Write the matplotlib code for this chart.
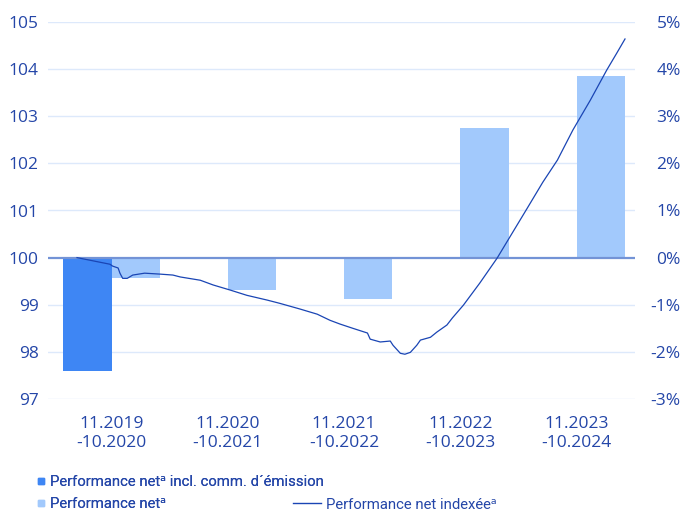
import matplotlib.pyplot as plt
from matplotlib.lines import Line2D

plt.rcParams['font.family'] = ['Open Sans', 'DejaVu Sans']

# performance per period, in %
periods = ["11.2019\n-10.2020", "11.2020\n-10.2021", "11.2021\n-10.2022",
           "11.2022\n-10.2023", "11.2023\n-10.2024"]
perf_incl_fee = [-2.41]                       # only first period
perf_net = [-0.44, -0.68, -0.88, 2.75, 3.85]

# indexed net performance (start = 100), month since 11.2019
line_month = [0.0, 3.6, 3.9, 4.5, 4.7, 5.0, 5.5, 6.1, 7.4, 9.1, 10.5, 11.3,
              13.5, 14.9, 16.8, 18.6, 20.8, 22.2, 24.4, 26.3, 27.7, 28.8,
              30.2, 31.8, 32.1, 33.2, 34.3, 34.6, 35.4, 35.9, 36.5, 37.2,
              37.6, 38.7, 39.4, 40.5, 41.1, 42.3, 44.1, 46.0, 47.4, 49.3,
              51.0, 52.6, 54.3, 56.2, 58.0, 59.1, 60.0]
line_value = [100.00, 99.86, 99.82, 99.78, 99.67, 99.56, 99.56, 99.63, 99.67,
              99.65, 99.63, 99.59, 99.52, 99.42, 99.31, 99.20, 99.10, 99.03,
              98.91, 98.80, 98.67, 98.59, 98.50, 98.40, 98.27, 98.21, 98.23,
              98.14, 97.97, 97.95, 97.99, 98.14, 98.25, 98.31, 98.42, 98.57,
              98.72, 98.99, 99.46, 99.99, 100.44, 101.05, 101.60, 102.07,
              102.71, 103.34, 103.98, 104.34, 104.64]

left_ticks = [97, 98, 99, 100, 101, 102, 103, 104, 105]
right_ticks = [-3, -2, -1, 0, 1, 2, 3, 4, 5]

text_col = '#2446a8'
dark_col = '#3e86f4'
light_col = '#a2c9fc'
line_col = '#1a45b4'
grid_col = '#dde9fb'
zero_col = '#7393d6'
legend_font = {'family': ['Roboto', 'DejaVu Sans'], 'size': 10.7}

fig = plt.figure(figsize=(6.84, 5.11), dpi=100)
ax = fig.add_axes([48.3 / 684, 1 - 399 / 511, (635 - 48.3) / 684, (399 - 22) / 511])
ax2 = ax.twinx()
ax2.set_zorder(ax.get_zorder() - 1)
ax.patch.set_visible(False)

w = 0.415
x = list(range(len(periods)))
ax2.bar([x[0] - w / 2], perf_incl_fee, width=w, color=dark_col, zorder=2)
ax2.bar([i + w / 2 for i in x], perf_net, width=w, color=light_col, zorder=2)
ax2.axhline(0, color=zero_col, lw=1.6, zorder=3)
for t in right_ticks:
    if t != 0:
        ax2.axhline(t, color=grid_col, lw=1.0, zorder=1)

# map months onto the category axis
x0, x1 = -0.297, 4.417
line_x = [x0 + m / 60 * (x1 - x0) for m in line_month]
ax.plot(line_x, line_value, color=line_col, lw=0.9)

ax.set_xlim(-0.544, 4.503)
ax.set_ylim(97, 105)
ax2.set_ylim(-3, 5)
ax.set_yticks(left_ticks)
ax.set_yticklabels([str(t) for t in left_ticks])
ax2.set_yticks(right_ticks)
ax2.set_yticklabels([f"{t}%" for t in right_ticks])
ax.set_xticks(x)
ax.set_xticklabels(periods, linespacing=1.25)

ax.tick_params(axis='y', length=0, pad=7, labelsize=12.5, labelcolor=text_col)
ax.tick_params(axis='x', length=0, pad=12, labelsize=12.5, labelcolor=text_col)
ax2.tick_params(axis='y', length=0, pad=33, labelsize=12.5, labelcolor=text_col)
for lab in ax2.get_yticklabels():
    lab.set_horizontalalignment('right')

for a in (ax, ax2):
    for s in a.spines.values():
        s.set_visible(False)

h1 = Line2D([], [], marker='s', ls='none', color=dark_col, markersize=4)
h2 = Line2D([], [], marker='s', ls='none', color=light_col, markersize=4)
h3 = Line2D([], [], color=line_col, lw=1.0)
leg1 = fig.legend([h1, h2], ["Performance net\u1d43 incl. comm. d\u00b4\u00e9mission",
                             "Performance net\u1d43"],
                  loc='upper left', bbox_to_anchor=(37.5 / 684, 1 - 475 / 511),
                  frameon=False, prop=legend_font, borderaxespad=0,
                  handlelength=0.5, handletextpad=0.31,
                  labelspacing=0.55, borderpad=0, labelcolor=text_col)
leg2 = fig.legend([h3], ["Performance net index\u00e9e\u1d43"],
                  loc='upper left', bbox_to_anchor=(293 / 684, 1 - 497.5 / 511),
                  frameon=False, prop=legend_font, borderaxespad=0,
                  handlelength=1.88, handletextpad=0.33,
                  borderpad=0, labelcolor=text_col)
fig.add_artist(leg1)

fig.savefig('out.png', dpi=100)
